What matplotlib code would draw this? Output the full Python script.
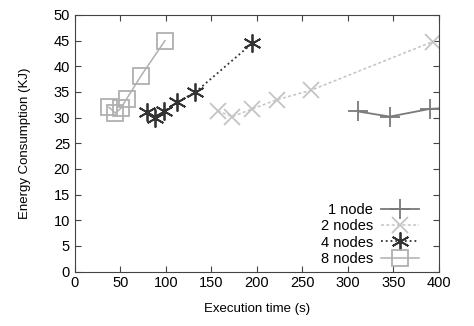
import numpy as np
import matplotlib.pyplot as plt

n1_x = [311, 346, 390, 420]
n1_y = [31.2, 30.2, 31.7, 32.0]
n2_x = [157, 173, 195, 222, 259, 393]
n2_y = [31.3, 30.2, 31.7, 33.5, 35.3, 44.8]
n4_x = [79.5, 88.5, 98, 112, 132, 195]
n4_y = [31.0, 29.9, 31.2, 33.0, 34.9, 44.5]
n8_x = [37.5, 44.5, 50.5, 57, 72.5, 99]
n8_y = [32.0, 30.9, 31.8, 33.7, 38.1, 45.0]

plt.rcParams['font.family'] = ['Liberation Sans', 'DejaVu Sans']
fig = plt.figure(figsize=(4.74, 3.26), dpi=100)
ax = fig.add_axes([0.158, 0.167, 0.768, 0.787])

ax.plot(n1_x, n1_y, color='#7a7a7a', ls='-', lw=1.3, marker='+', ms=14, mew=1.3,
        label='1 node')
ax.plot(n2_x, n2_y, color='#c4c4c4', ls='--', dashes=(2, 1.5), lw=1.1, marker='x',
        ms=12, mew=1.3, label='2 nodes')
ax.plot(n4_x, n4_y, color='#333333', ls=':', lw=1.3, marker=(6, 2, 0), ms=13,
        mew=1.3, label='4 nodes')
ax.plot(n8_x, n8_y, color='#b0b0b0', ls='-', lw=1.1, marker='s', ms=12, mew=1.3,
        mfc='none', label='8 nodes')

ax.set_xlim(0, 400)
ax.set_ylim(0, 50)
ax.set_xticks(np.arange(0, 401, 50))
ax.set_yticks(np.arange(0, 51, 5))
ax.tick_params(direction='in', top=True, right=True, labelsize=10.5, length=4,
               color='#444444')
for s in ax.spines.values():
    s.set_color('#444444')
ax.set_xlabel('Execution time (s)', fontsize=9.5, labelpad=9)
ax.set_ylabel('Energy Consumption (KJ)', fontsize=9.5, labelpad=16)

ax.legend(loc='lower right', markerfirst=False, frameon=False, fontsize=10.5,
          handlelength=2.6, labelspacing=0.15, borderaxespad=0.0,
          handletextpad=0.5, bbox_to_anchor=(0.96, 0.0))

fig.savefig('out.png', dpi=100)
